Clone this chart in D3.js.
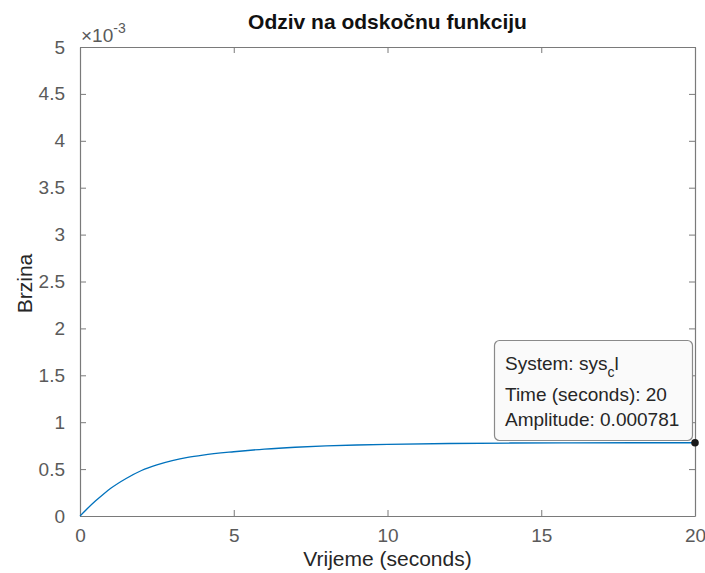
<!DOCTYPE html>
<html>
<head>
<meta charset="utf-8">
<script src="https://cdn.jsdelivr.net/npm/d3@7"></script>
<style>
  html, body { margin: 0; padding: 0; background: #fff; }
  svg { display: block; font-family: "Liberation Sans", Arial, Helvetica, sans-serif; }
</style>
</head>
<body>
<svg id="chart" width="705" height="573"></svg>
<script>
// Step response samples (time in seconds, speed amplitude)
const timeSec = [0, 0.25, 0.5, 0.75, 1, 1.5, 2, 2.5, 3, 3.5, 4, 5, 6, 7, 8, 9, 10, 12, 14, 16, 18, 20];
const amplitude = [0, 0.000083, 0.00016, 0.00023, 0.000295, 0.000400, 0.000485, 0.000545, 0.000590,
  0.000625, 0.000650, 0.000685, 0.000713, 0.000733, 0.000747, 0.000757, 0.000764, 0.000773,
  0.000778, 0.000780, 0.000781, 0.000781];

const xTicks = [0, 5, 10, 15, 20];
const yTicks = [0, 0.0005, 0.001, 0.0015, 0.002, 0.0025, 0.003, 0.0035, 0.004, 0.0045, 0.005];

// Data tip
const tipSystem = "sys";
const tipSub = "c";
const tipSuffix = "l";
const tipTime = 20;
const tipAmp = 0.000781;

const titleText = "Odziv na odskočnu funkciju";
const xLabelText = "Vrijeme (seconds)";
const yLabelText = "Brzina";

const svg = d3.select("#chart");
const L = 80, R = 695, T = 47, B = 516;

const x = d3.scaleLinear().domain([0, 20]).range([L, R]);
const y = d3.scaleLinear().domain([0, 0.005]).range([B, T]);

const axisColor = "#7a7a7a";
const tickText = "#5a5a5a";
const tickLen = 6;

// Plot area
svg.append("rect").attr("x", L).attr("y", T).attr("width", R - L).attr("height", B - T).attr("fill", "#fff");

// Axes (box on, ticks inward)
const gxB = svg.append("g").attr("transform", `translate(0,${B})`)
  .call(d3.axisBottom(x).tickValues(xTicks).tickSizeInner(-tickLen).tickSizeOuter(0).tickPadding(13).tickFormat(d3.format("d")));
const gxT = svg.append("g").attr("transform", `translate(0,${T})`)
  .call(d3.axisTop(x).tickValues(xTicks).tickSizeInner(-tickLen).tickSizeOuter(0).tickFormat(""));
const gyL = svg.append("g").attr("transform", `translate(${L},0)`)
  .call(d3.axisLeft(y).tickValues(yTicks).tickSizeInner(-tickLen).tickSizeOuter(0).tickPadding(15).tickFormat(d => d3.format("~g")(+(d * 1000).toFixed(2))));
const gyR = svg.append("g").attr("transform", `translate(${R},0)`)
  .call(d3.axisRight(y).tickValues(yTicks).tickSizeInner(-tickLen).tickSizeOuter(0).tickFormat(""));

[gxB, gxT, gyL, gyR].forEach(g => {
  g.select(".domain").attr("stroke", axisColor).attr("stroke-width", 1.2);
  g.selectAll(".tick line").attr("stroke", axisColor).attr("stroke-width", 1);
  g.selectAll(".tick text").attr("fill", tickText).attr("font-size", 19)
    .attr("font-family", "'Liberation Sans', Arial, sans-serif");
});
gxB.selectAll(".tick text").attr("dy", "0.71em");

// Exponent label
const ex = svg.append("text").attr("x", 81).attr("y", 42).attr("fill", tickText).attr("font-size", 19);
ex.append("tspan").text("×10");
ex.append("tspan").attr("font-size", 14).attr("dy", -9).text("-3");

// Step response curve
const line = d3.line().x((d, i) => x(timeSec[i])).y(d => y(d)).curve(d3.curveMonotoneX);
svg.append("path").datum(amplitude)
  .attr("d", line)
  .attr("fill", "none")
  .attr("stroke", "#0072BD")
  .attr("stroke-width", 1.3);

// Title and axis labels
svg.append("text").attr("x", (L + R) / 2).attr("y", 29).attr("text-anchor", "middle")
  .attr("font-size", 21).attr("font-weight", "bold").attr("fill", "#111").text(titleText);
svg.append("text").attr("x", (L + R) / 2).attr("y", 566).attr("text-anchor", "middle")
  .attr("font-size", 21).attr("fill", "#262626").text(xLabelText);
svg.append("text").attr("transform", `translate(32,${(T + B) / 2 + 2}) rotate(-90)`).attr("text-anchor", "middle")
  .attr("font-size", 21).attr("fill", "#262626").text(yLabelText);

// Data tip box
const tip = svg.append("g");
tip.append("rect").attr("x", 494.5).attr("y", 340.5).attr("width", 198).attr("height", 100)
  .attr("rx", 5).attr("ry", 5)
  .attr("fill", "#fafafa").attr("stroke", "#8a8a8a").attr("stroke-width", 1.2);
const t1 = tip.append("text").attr("x", 505).attr("y", 370).attr("font-size", 19).attr("fill", "#262626");
t1.append("tspan").text("System: " + tipSystem);
t1.append("tspan").attr("font-size", 14).attr("dy", 7).text(tipSub);
t1.append("tspan").attr("dy", -7).text(tipSuffix);
tip.append("text").attr("x", 505).attr("y", 401).attr("font-size", 19).attr("fill", "#262626")
  .text("Time (seconds): " + tipTime);
tip.append("text").attr("x", 505).attr("y", 426).attr("font-size", 19).attr("fill", "#262626")
  .text("Amplitude: " + tipAmp);

// Data tip marker
svg.append("circle").attr("cx", x(tipTime)).attr("cy", y(tipAmp)).attr("r", 3.8)
  .attr("fill", "#1a1a1a");
</script>
</body>
</html>
